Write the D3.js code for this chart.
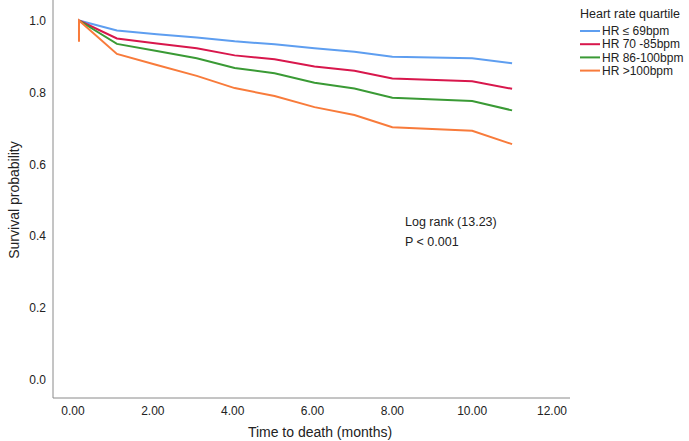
<!DOCTYPE html>
<html>
<head>
<meta charset="utf-8">
<script src="https://cdn.jsdelivr.net/npm/d3@7"></script>
<style>
  body { margin: 0; background: #fff; }
  text { font-family: "Liberation Sans", Arial, sans-serif; fill: #222; }
</style>
</head>
<body>
<svg id="chart" width="689" height="441"></svg>
<script>
// time points (months); the first three mark the censor spike at the start
var times = [0.15, 0.15, 0.15, 1.1, 2.1, 3.1, 4.05, 5.05, 6.05, 7.05, 8, 10, 11];
var groups = ["HR \u2264 69bpm", "HR 70 -85bpm", "HR 86-100bpm", "HR >100bpm"];
var colors = ["#5e9ef0", "#d8174c", "#3a9a35", "#f87b3b"];
var survHR69 = [1.0, 1.0, 1.0, 0.972, 0.962, 0.953, 0.942, 0.934, 0.923, 0.913, 0.899, 0.895, 0.881];
var survHR85 = [1.0, 1.0, 1.0, 0.950, 0.936, 0.923, 0.903, 0.892, 0.872, 0.860, 0.839, 0.831, 0.810];
var survHR100 = [1.0, 1.0, 1.0, 0.935, 0.915, 0.895, 0.868, 0.853, 0.827, 0.811, 0.785, 0.776, 0.750];
var survHRover = [1.0, 0.941, 1.0, 0.907, 0.876, 0.846, 0.812, 0.790, 0.759, 0.737, 0.703, 0.693, 0.656];
var xTicks = [0, 2, 4, 6, 8, 10, 12];
var yTicks = [0, 0.2, 0.4, 0.6, 0.8, 1.0];

var series = [survHR69, survHR85, survHR100, survHRover];

var svg = d3.select("#chart");

var x = d3.scaleLinear().domain([0, 12]).range([73, 552]);
var y = d3.scaleLinear().domain([0, 1]).range([380, 20.5]);

// axis lines
svg.append("line")
    .attr("x1", 53).attr("x2", 53)
    .attr("y1", 0).attr("y2", 398)
    .attr("stroke", "#8a8a8a").attr("stroke-width", 1);
svg.append("line")
    .attr("x1", 53).attr("x2", 570)
    .attr("y1", 398).attr("y2", 398)
    .attr("stroke", "#8a8a8a").attr("stroke-width", 1);

// tick labels
svg.selectAll(".ytick").data(yTicks).enter().append("text")
    .attr("class", "ytick")
    .attr("x", 46)
    .attr("y", function (d) { return y(d); })
    .attr("dy", "0.35em")
    .attr("text-anchor", "end")
    .style("font-size", "12px")
    .text(function (d) { return d3.format(".1f")(d); });

svg.selectAll(".xtick").data(xTicks).enter().append("text")
    .attr("class", "xtick")
    .attr("x", function (d) { return x(d); })
    .attr("y", 415)
    .attr("text-anchor", "middle")
    .style("font-size", "12px")
    .text(function (d) { return d3.format(".2f")(d); });

// axis titles
svg.append("text")
    .attr("x", 320).attr("y", 437)
    .attr("text-anchor", "middle")
    .style("font-size", "14px")
    .text("Time to death (months)");
svg.append("text")
    .attr("transform", "translate(19,200) rotate(-90)")
    .attr("text-anchor", "middle")
    .style("font-size", "14px")
    .text("Survival probability");

// curves
var line = d3.line()
    .x(function (d, i) { return x(times[i]); })
    .y(function (d) { return y(d); });

series.forEach(function (s, i) {
    svg.append("path")
        .datum(s)
        .attr("d", line)
        .attr("fill", "none")
        .attr("stroke", colors[i])
        .attr("stroke-width", 2);
});

// annotation
svg.append("text").attr("x", 405).attr("y", 226)
    .style("font-size", "12.5px").text("Log rank (13.23)");
svg.append("text").attr("x", 405).attr("y", 246)
    .style("font-size", "12.5px").text("P < 0.001");

// legend
var legend = svg.append("g").attr("transform", "translate(580,0)");
legend.append("text").attr("x", 0).attr("y", 18)
    .style("font-size", "12.5px").text("Heart rate quartile");
groups.forEach(function (g, i) {
    var yy = 31 + i * 13.2;
    legend.append("line")
        .attr("x1", 0).attr("x2", 20)
        .attr("y1", yy).attr("y2", yy)
        .attr("stroke", colors[i]).attr("stroke-width", 2);
    legend.append("text")
        .attr("x", 22).attr("y", yy)
        .attr("dy", "0.35em")
        .style("font-size", "12px")
        .text(g);
});
</script>
</body>
</html>
